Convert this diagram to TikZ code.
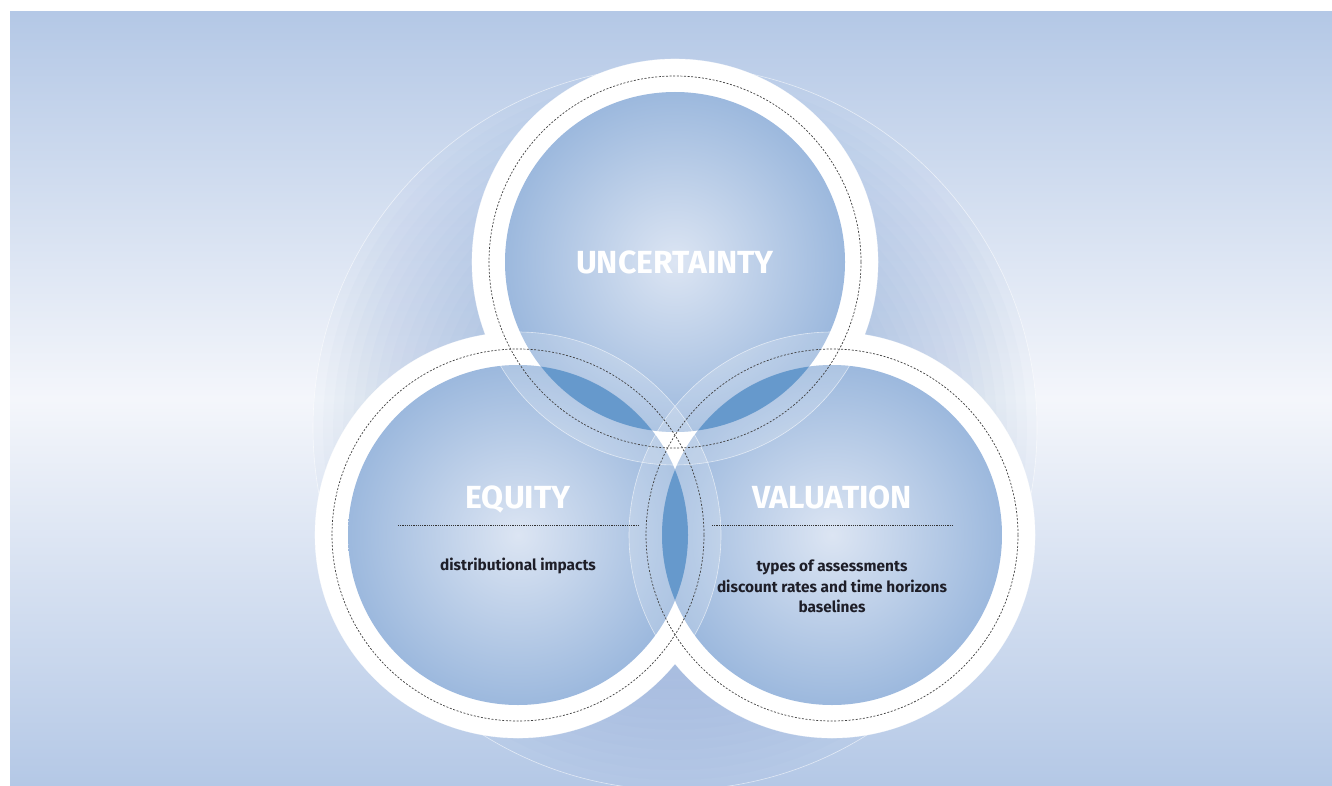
\documentclass[tikz,border=0pt]{standalone}
\usepackage{fontspec}
\setmainfont{Fira Sans}
\usetikzlibrary{positioning}

\definecolor{bgtop}{HTML}{B4C8E6}
\definecolor{bgmid}{HTML}{F4F6FB}
\definecolor{halo}{HTML}{7FA2D4}
\definecolor{diskin}{HTML}{DCE5F3}
\definecolor{diskout}{HTML}{80A5D4}
\definecolor{lens}{HTML}{6699CC}
\definecolor{ink}{HTML}{1E1E28}

\pgfdeclareradialshading{diskshade}{\pgfpoint{0bp}{0bp}}{color(0bp)=(diskin); color(36bp)=(diskout); color(50bp)=(diskout)}

\tikzset{
	disk/.style={shading=diskshade},
	band/.style={fill=white, fill opacity=.18},
	rim/.style={draw=white, draw opacity=.6, line width=.6pt},
	seam/.style={draw=black!75, line width=.7pt, dash pattern=on 2pt off 1.6pt},
	rule/.style={draw=black!80, line width=.6pt, dash pattern=on 1.2pt off 1pt},
	title/.style={text=white, anchor=base, font=\fontsize{32}{32}\selectfont\bfseries},
	notes/.style={text=ink, anchor=base, align=center, font=\fontsize{15.4}{20.5}\selectfont\bfseries}
}

\begin{document}
\begin{tikzpicture}[x=1pt,y=-1pt]
	\useasboundingbox (0,0) rectangle (1332,786);
	\shade[top color=bgtop, bottom color=bgtop, middle color=bgmid] (10,12) rectangle (1332,786);
	
	\coordinate (cB) at (675,428);
	\coordinate (cU) at (675,262); \coordinate (cE) at (518,535); \coordinate (cV) at (832,535);
	
	% halo behind the three circles
	\foreach \i in {1,...,36} \fill[halo, fill opacity=.034] (cB) circle ({10.055*\i});
	\draw[rim] (cB) circle (362);
	
	% white rings, then the shaded disks
	\fill[white] (cU) circle (203) (cE) circle (203) (cV) circle (203);
	\shade[disk] (cU) circle (170);
	\shade[disk] (cE) circle (170);
	\shade[disk] (cV) circle (170);
	
	% overlaps
	\begin{scope}
		\clip (cU) circle (170);
		\fill[lens] (cE) circle (170) (cV) circle (170);
	\end{scope}
	\begin{scope}
		\clip (cE) circle (170);
		\fill[lens] (cV) circle (170);
	\end{scope}
	\foreach \a/\b in {U/E,U/V,E/U,E/V,V/U,V/E}{
		\begin{scope}
			\clip (c\b) circle (170);
			\fill[band, even odd rule] (c\a) circle (203) (c\a) circle (170);
		\end{scope}
	}
	\draw[rim] (cU) circle (203) (cE) circle (203) (cV) circle (203);
	\draw[seam] (cU) circle (186) (cE) circle (186) (cV) circle (186);
	
	% labels
	\node[title] (tUnc) at (675,273.5) {UNCERTAINTY};
	\node[title] (tEq) at (518,508.5) {EQUITY};
	\node[title] (tVal) at (832,508.5) {VALUATION};
	
	\coordinate (eqL) at (398,525); \coordinate (eqR) at (638,525);
	\coordinate (valL) at (712,525); \coordinate (valR) at (952,525);
	\draw[rule] (eqL) -- (eqR);
	\draw[rule] (valL) -- (valR);
	
	\node[notes] (nEq) at (518,570) {distributional impacts};
	\node[notes] (nVal) at (832,612.5) {types of assessments\\discount rates and time horizons\\baselines};
\end{tikzpicture}
\end{document}
